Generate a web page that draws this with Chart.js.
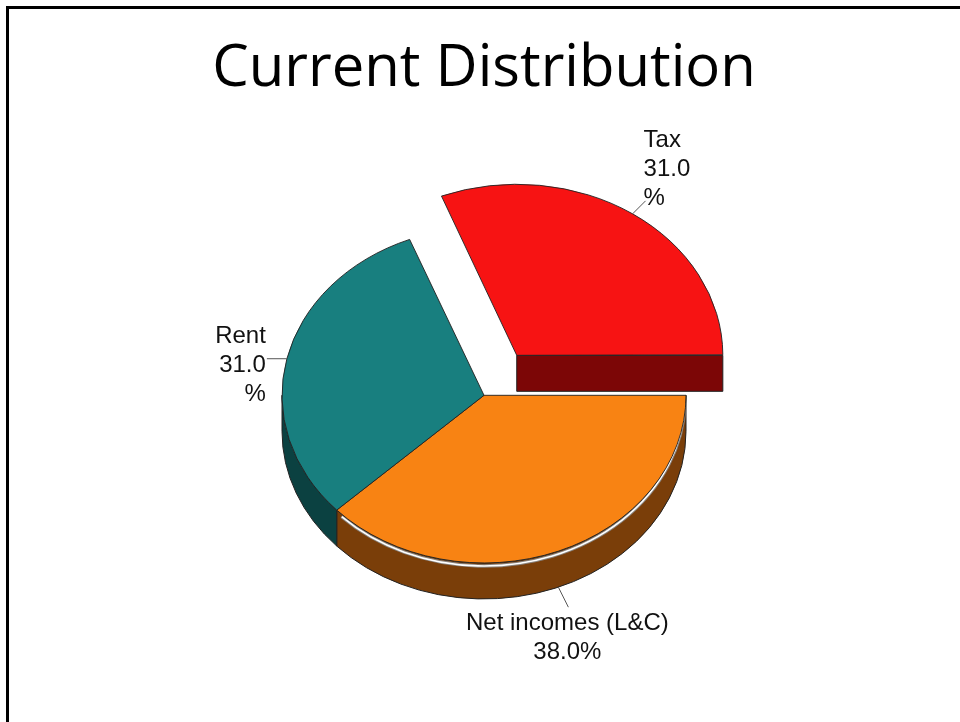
<!DOCTYPE html>
<html><head><meta charset="utf-8">
<script src="https://cdn.jsdelivr.net/npm/chart.js@4.4.0/dist/chart.umd.min.js"></script>
<style>
html,body{margin:0;padding:0;background:#fff;}
#wrap{position:relative;width:960px;height:722px;overflow:hidden;background:#fff;}
#frame{position:absolute;left:6px;top:6px;width:1000px;height:800px;border:3px solid #000;box-sizing:border-box;}
canvas{position:absolute;left:0;top:0;}
</style></head><body>
<div id="wrap"><div id="frame"></div><canvas id="c" width="960" height="722"></canvas></div>
<script>
// ---- data ----
const chartTitle = 'Current Distribution';
const categories = ['Tax', 'Net incomes (L&C)', 'Rent'];
const values = [31, 38, 31];

// ---- styles ----
const topColors = ['#F71313', '#F88313', '#187F7F'];
const sideColors = ['#7C0606', '#7A3E09', '#0B4141'];
const explode = [233, 0, 0];
const wrapLabel = [true, false, true];
const labelAlign = ['left', 'center', 'right'];
const labelVAnchor = ['bottom', 'top', 'middle'];
const leaderVec = [[13, -13], [10, 20], [-20, 0]];
const wallHighlight = [false, true, false];
const K = 0.83, DEPTH = 36;
const LABEL_FONT = '24px "Liberation Sans", Arial, sans-serif';
const LINE_H = 29;

const total = values.reduce((a, b) => a + b, 0);

function geom(el) {
  const p = el.getProps(['x', 'y', 'startAngle', 'endAngle', 'outerRadius'], true);
  const o = (el.options.offset || 0) / 4;
  const circ = p.endAngle - p.startAngle;
  const fix = 1 - Math.sin(Math.min(Math.PI, circ));
  const R = p.outerRadius + o * fix;
  const h = (p.startAngle + p.endAngle) / 2;
  return {
    cx: p.x + Math.cos(h) * o,
    cy: p.y + Math.sin(h) * o * K,
    R, s: p.startAngle, e: p.endAngle, h, offset: o
  };
}

const pie3d = {
  id: 'pie3d',
  beforeDatasetsDraw(chart) {
    const ctx = chart.ctx;
    const arcs = chart.getDatasetMeta(0).data;
    const cx0 = arcs[0].x, cy0 = arcs[0].y;
    ctx.save();
    ctx.lineWidth = 1;
    ctx.strokeStyle = '#222';
    ctx.lineJoin = 'round';
    arcs.forEach((el, i) => {
      const g = geom(el);
      ctx.fillStyle = sideColors[i];
      // visible cut face of exploded slice
      if (g.offset > 0 && Math.cos(g.e) > 0.001) {
        const rx = g.cx + g.R * Math.cos(g.e), ry = g.cy + K * g.R * Math.sin(g.e);
        ctx.beginPath();
        ctx.moveTo(g.cx, g.cy);
        ctx.lineTo(rx, ry);
        ctx.lineTo(rx, ry + DEPTH);
        ctx.lineTo(g.cx, g.cy + DEPTH);
        ctx.closePath();
        ctx.fill(); ctx.stroke();
      }
      // outer wall on the front half
      for (let m = -2; m <= 2; m++) {
        const lo = Math.max(g.s, 2 * Math.PI * m);
        const hi = Math.min(g.e, 2 * Math.PI * m + Math.PI);
        if (hi - lo > 1e-4) {
          ctx.beginPath();
          ctx.ellipse(g.cx, g.cy, g.R, g.R * K, 0, lo, hi, false);
          ctx.lineTo(g.cx + g.R * Math.cos(hi), g.cy + K * g.R * Math.sin(hi) + DEPTH);
          ctx.ellipse(g.cx, g.cy + DEPTH, g.R, g.R * K, 0, hi, lo, true);
          ctx.closePath();
          ctx.fill(); ctx.stroke();
          if (wallHighlight[i]) {
            ctx.save();
            ctx.beginPath();
            ctx.ellipse(g.cx, g.cy + 3, g.R - 1, g.R * K, 0, lo + 0.03, hi - 0.03, false);
            ctx.strokeStyle = 'rgba(140,140,140,0.9)';
            ctx.lineWidth = 3.5;
            ctx.stroke();
            ctx.beginPath();
            ctx.ellipse(g.cx, g.cy + 3, g.R - 1, g.R * K, 0, lo + 0.03, hi - 0.03, false);
            ctx.strokeStyle = '#fff';
            ctx.lineWidth = 1.6;
            ctx.stroke();
            ctx.restore();
          }
        }
      }
    });
    ctx.restore();
    ctx.save();
    ctx.translate(cx0, cy0);
    ctx.scale(1, K);
    ctx.translate(-cx0, -cy0);
  },
  afterDatasetsDraw(chart) {
    const ctx = chart.ctx;
    ctx.restore();
    const arcs = chart.getDatasetMeta(0).data;
    ctx.save();
    ctx.font = LABEL_FONT;
    ctx.fillStyle = '#111';
    ctx.strokeStyle = '#555';
    ctx.lineWidth = 1;
    arcs.forEach((el, i) => {
      const g = geom(el);
      let sx = g.cx + g.R * Math.cos(g.h);
      let sy = g.cy + K * g.R * Math.sin(g.h);
      if (Math.sin(g.h) > 0.3) sy += DEPTH;
      const ex = sx + leaderVec[i][0], ey = sy + leaderVec[i][1];
      ctx.beginPath();
      ctx.moveTo(sx, sy); ctx.lineTo(ex, ey); ctx.stroke();
      const pct = (values[i] / total * 100).toFixed(1);
      const lines = wrapLabel[i] ? [categories[i], pct, '%'] : [categories[i], pct + '%'];
      ctx.textAlign = labelAlign[i];
      ctx.textBaseline = 'alphabetic';
      let tx = ex, firstBase;
      if (labelAlign[i] === 'left') tx = ex - 2;
      else tx = ex - 1;
      if (labelVAnchor[i] === 'bottom') firstBase = ey + 4.5 - (lines.length - 1) * LINE_H;
      else if (labelVAnchor[i] === 'top') firstBase = ey + 23;
      else firstBase = ey + 13.6 - Math.floor(lines.length / 2) * LINE_H;
      lines.forEach((t, j) => ctx.fillText(t, tx, firstBase + j * LINE_H));
    });
    ctx.restore();
  }
};

const rotationDeg = 90 - values[0] / total * 360;

new Chart(document.getElementById('c'), {
  type: 'pie',
  data: {
    labels: categories,
    datasets: [{
      data: values,
      backgroundColor: topColors,
      borderColor: '#222',
      borderWidth: 1,
      offset: explode,
      hoverOffset: 0,
      clip: false
    }]
  },
  options: {
    responsive: false,
    animation: false,
    events: [],
    rotation: rotationDeg,
    radius: 202,
    layout: { padding: { left: 100, right: 92, top: 0, bottom: 35.3 } },
    plugins: {
      legend: { display: false },
      tooltip: { enabled: false },
      title: {
        display: true,
        text: chartTitle,
        color: '#000',
        font: { family: '"Open Sans", Lato, sans-serif', size: 58, weight: 'normal' },
        padding: { top: 34.3, bottom: 0 }
      }
    }
  },
  plugins: [pie3d]
});
</script>
</body></html>
